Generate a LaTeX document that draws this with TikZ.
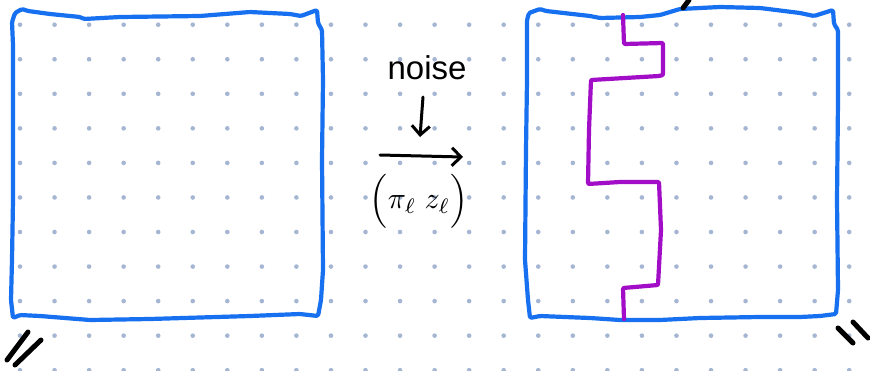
\documentclass[tikz,border=0pt]{standalone}
\usepackage{fontspec}
\newfontfamily\handfont{Liberation Sans}
\usetikzlibrary{arrows.meta}
\definecolor{gridc}{RGB}{165,182,210}
\definecolor{boxc}{RGB}{22,112,240}
\definecolor{pathc}{RGB}{162,14,200}
\tikzset{
  dotc/.style={fill=gridc},
  handbox/.style={draw=boxc, line width=4.2pt, line join=round, line cap=round, rounded corners=1.5pt},
  cutpath/.style={draw=pathc, line width=4.2pt, line join=round, line cap=round, rounded corners=1pt},
  inkmark/.style={draw=black, line width=5pt, line cap=round},
  sketcharrow/.style={draw=black, line width=3pt, line cap=round, -{Straight Barb[length=9pt,width=18pt,line width=3pt]}},
  lbl/.style={inner sep=0pt, text=black}
}
\begin{document}
\begin{tikzpicture}[x=1pt,y=-1pt]
\useasboundingbox (0,0) rectangle (870,370);
\fill[white] (0,0) rectangle (870,370);
% dot grid
\foreach \i in {0,...,24}{
  \foreach \j in {0,...,10}{
    \fill[dotc] ({20+34.55*\i},{24.7+34.55*\j}) circle[radius=2.3pt];
  }
}
% left box
\draw[handbox] (13,45) -- (12,22) -- (15,13) -- (22,9) -- (28,11) -- (50,14) -- (80,17) -- (84,19) -- (120,17) -- (200,16) -- (250,12) -- (290,14) -- (301,16) -- (317,10) -- (318,23) -- (322,30) -- (323,80) -- (322,160) -- (323,270) -- (321,300) -- (318,316) -- (300,314) -- (250,316) -- (150,319) -- (90,320) -- (40,316) -- (20,315) -- (13,318) -- (11,300) -- (12,260) -- (13,200) -- (13,100) -- cycle;
% right box
\draw[handbox] (527,20) -- (529,13) -- (540,9) -- (546,11) -- (590,16) -- (600,18) -- (640,17) -- (660,15) -- (680,9) -- (720,7) -- (760,8) -- (800,13) -- (814,16) -- (833,10) -- (834,24) -- (838,30) -- (838,100) -- (837,200) -- (838,290) -- (836,314) -- (820,316) -- (800,317) -- (760,317) -- (700,318) -- (660,320) -- (620,320) -- (590,318) -- (540,316) -- (530,318) -- (528,300) -- (525,260) -- (526,150) -- (527,80) -- cycle;
% purple cut
\draw[cutpath] (623,15) -- (624,44) -- (663,43) -- (663,75) -- (659,76) -- (591,80) -- (589,130) -- (588,184) -- (620,182) -- (659,182) -- (661,230) -- (658,285) -- (623,288) -- (624,319);
% ink marks
\draw[inkmark] (7,360) -- (28,332);
\draw[inkmark] (15,365) -- (41,340);
\draw[inkmark] (838,328) -- (853,343);
\draw[inkmark] (853,322) -- (868,338);
\draw[inkmark] (683,8) -- (689,0);
% labels
\node[lbl] (noise) at (427,68) {\handfont\fontsize{33}{36}\selectfont noise};
\node[lbl, scale=3] (map) at (419,201) {$\Big(\pi_\ell\;z_\ell\Big)$};
% arrows
\coordinate (dtop) at (423,97);
\coordinate (dbot) at (420,137);
\coordinate (hl) at (380,155);
\coordinate (hr) at (463,157);
\draw[sketcharrow] (dtop) -- (dbot);
\draw[sketcharrow] (hl) -- (hr);
\end{tikzpicture}
\end{document}
